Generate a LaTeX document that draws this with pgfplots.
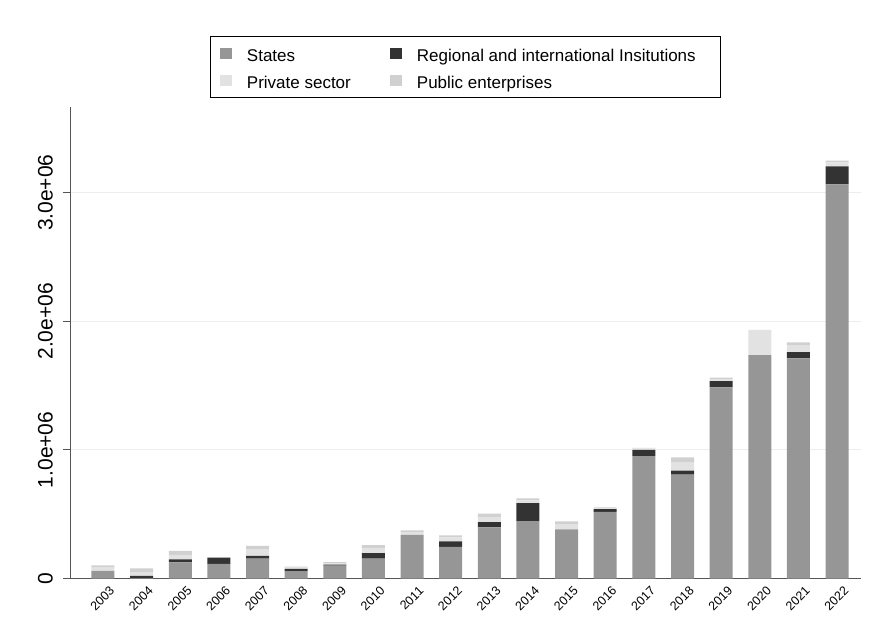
\documentclass[border=0pt]{standalone}
\usepackage{pgfplots}
\pgfplotsset{compat=1.18}
\usepackage{pgfplotstable}
\usepackage{fontspec}
\setmainfont{Liberation Sans}
\definecolor{cstates}{HTML}{969696}
\definecolor{creg}{HTML}{333333}
\definecolor{cpriv}{HTML}{E2E2E2}
\definecolor{cpub}{HTML}{D0D0D0}
\definecolor{cgrid}{HTML}{EAEEEE}
\definecolor{caxis}{HTML}{555555}
\pgfplotstableread{
x year states reg priv pub
0 2003 60000 0 25000 18000
1 2004 3000 17000 25000 34000
2 2005 126000 23000 35000 30000
3 2006 113000 49000 3000 0
4 2007 154000 21000 50000 28000
5 2008 58000 16000 10000 8000
6 2009 100000 7000 12000 9000
7 2010 154000 44000 40000 22000
8 2011 340000 0 20000 14000
9 2012 245000 44000 30000 17000
10 2013 398000 41000 40000 25000
11 2014 447000 140000 20000 16000
12 2015 382000 0 40000 22000
13 2016 519000 21000 8000 5000
14 2017 952000 49000 10000 5000
15 2018 807000 31000 62000 42000
16 2019 1486000 49000 16000 10000
17 2020 1737000 0 197000 0
18 2021 1711000 49000 50000 26000
19 2022 3065000 140000 30000 15000
}\datatable
\begin{document}
\begin{tikzpicture}
\begin{axis}[
  name=ax,
  scale only axis,
  width=791pt, height=471.5pt,
  xmin=-0.854, xmax=19.62,
  ymin=0, ymax=3.666e6,
  ybar stacked,
  bar width=23pt,
  axis x line*=bottom,
  axis y line*=left,
  axis line style={caxis, line width=0.9pt, -},
  xtick=data,
  xticklabels={2003,2004,2005,2006,2007,2008,2009,2010,2011,2012,2013,2014,2015,2016,2017,2018,2019,2020,2021,2022},
  xtick style={draw=none},
  xticklabel style={xshift=6pt, yshift=0pt, rotate=45, anchor=north east, font=\fontsize{12.5}{14}\selectfont, inner sep=0pt},
  ytick={0,1e6,2e6,3e6},
  yticklabels={0,1.0e+06,2.0e+06,3.0e+06},
  scaled y ticks=false,
  ytick style={caxis, line width=0.9pt},
  tick align=outside,
  major tick length=7pt,
  yticklabel style={xshift=-10pt, rotate=90, anchor=south, font=\fontsize{21}{24}\selectfont, inner sep=0pt},
  /pgf/number format/assume math mode=true,
  ymajorgrids,
  major grid style={cgrid, line width=1pt},
  legend columns=2,
  legend cell align=left,
  legend style={at={(0.5,1)}, anchor=south, yshift=9pt, draw=black, line width=0.8pt,
    font=\fontsize{17}{20}\selectfont, inner xsep=10pt, inner ysep=8.2pt, row sep=9.6pt,
    nodes={inner xsep=0pt, inner ysep=0pt, text height=16.4pt, text depth=1pt},
    /tikz/every odd column/.append style={column sep=14.7pt},
    /tikz/every even column/.append style={column sep=0pt}},
  legend image code/.code={\fill[#1, draw=none] (0pt,-5.5pt) rectangle (12pt,5.5pt);},
]
\addplot[fill=cstates, draw=none] table[x=x, y=states] {\datatable};
\addlegendentry{\makebox[143.3pt][l]{States}}
\addplot[fill=creg, draw=none] table[x=x, y=reg] {\datatable};
\addlegendentry{Regional and international Insitutions\hspace*{15pt}}
\addplot[fill=cpriv, draw=none] table[x=x, y=priv] {\datatable};
\addlegendentry{\makebox[143.3pt][l]{Private sector}}
\addplot[fill=cpub, draw=none] table[x=x, y=pub] {\datatable};
\addlegendentry{Public enterprises}
\end{axis}
\pgfresetboundingbox
\path[use as bounding box] ([shift={(-70pt,-62.5pt)}]ax.south west) rectangle ([shift={(10pt,107pt)}]ax.north east);
\end{tikzpicture}
\end{document}
